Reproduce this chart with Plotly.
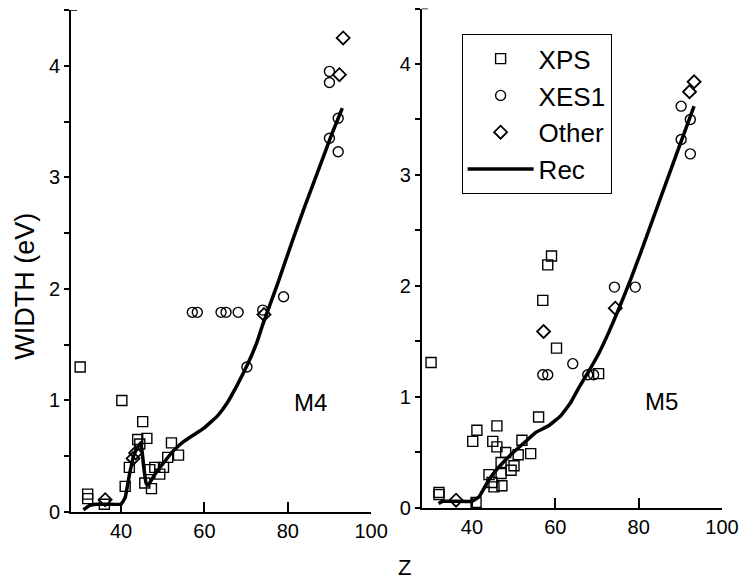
import plotly.graph_objects as go

# ---- M4 panel data ----
m4_xps_z = [30.2, 32.0, 32.0, 36.0, 40.2, 41.0, 42.0, 44.0, 44.5, 45.2, 46.2, 45.7,
            47.3, 46.9, 48.1, 49.3, 50.2, 51.2, 52.1, 53.8]
m4_xps_w = [1.30, 0.16, 0.12, 0.07, 1.00, 0.23, 0.40, 0.65, 0.61, 0.81, 0.66, 0.26,
            0.21, 0.38, 0.40, 0.34, 0.40, 0.49, 0.62, 0.51]
m4_xes_z = [57.1, 58.3, 64.0, 65.2, 68.1, 74.0, 79.0, 70.2, 90.0, 90.0, 92.1, 90.0, 92.1]
m4_xes_w = [1.79, 1.79, 1.79, 1.79, 1.79, 1.81, 1.93, 1.30, 3.95, 3.85, 3.53, 3.35, 3.23]
m4_oth_z = [36.2, 42.9, 43.5, 74.3, 92.4, 93.3]
m4_oth_w = [0.11, 0.48, 0.53, 1.77, 3.92, 4.25]
m4_rec_z = [31, 32.5, 34, 37, 40, 41, 42, 43, 44, 44.8, 45.4, 46, 46.5, 48, 50, 52.6,
            55, 57.4, 59.8, 63.1, 65.5, 67.9, 70.2, 72.6, 74, 77.6, 81.2, 84, 87.1,
            90.7, 93.1]
m4_rec_w = [0.02, 0.06, 0.07, 0.07, 0.07, 0.13, 0.33, 0.50, 0.58, 0.62, 0.42, 0.26,
            0.24, 0.33, 0.43, 0.55, 0.63, 0.69, 0.75, 0.86, 0.98, 1.14, 1.31, 1.52,
            1.68, 2.05, 2.44, 2.73, 3.04, 3.40, 3.62]

# ---- M5 panel data ----
m5_xps_z = [30.2, 32.1, 32.1, 41.0, 40.2, 41.2, 46.0, 45.0, 46.0, 48.1, 44.1, 44.8,
            45.3, 47.2, 47.0, 47.0, 49.4, 50.1, 51.1, 52.0, 54.1, 56.0, 57.0, 58.2,
            59.1, 60.3, 70.4]
m5_xps_w = [1.31, 0.14, 0.12, 0.05, 0.60, 0.70, 0.74, 0.60, 0.55, 0.50, 0.30, 0.23,
            0.19, 0.20, 0.41, 0.31, 0.34, 0.38, 0.48, 0.61, 0.49, 0.82, 1.87, 2.19,
            2.27, 1.44, 1.21]
m5_xes_z = [57.0, 58.2, 64.2, 67.8, 69.2, 74.2, 79.2, 90.2, 92.4, 90.2, 92.4]
m5_xes_w = [1.20, 1.20, 1.30, 1.20, 1.20, 1.99, 1.99, 3.62, 3.50, 3.32, 3.19]
m5_oth_z = [36.2, 57.2, 74.4, 92.2, 93.3]
m5_oth_w = [0.07, 1.59, 1.80, 3.75, 3.84]
m5_rec_z = [32, 33, 36, 40, 41.7, 44, 46.5, 49.6, 52.9, 55.3, 58.4, 61.3, 63.7, 65.6,
            68, 70.4, 72.8, 75.2, 78, 80.7, 83, 86, 89.5, 93.3]
m5_rec_w = [0.04, 0.06, 0.06, 0.06, 0.10, 0.25, 0.37, 0.49, 0.60, 0.68, 0.74, 0.83,
            0.95, 1.08, 1.23, 1.39, 1.58, 1.79, 2.05, 2.32, 2.56, 2.87, 3.23, 3.62]

x_ticks = [40, 60, 80, 100]
y_ticks = [0, 1, 2, 3, 4]

FONT = "Liberation Sans, Arial, sans-serif"
BLACK = "black"

fig = go.Figure()

panels = [
    ("x", "y", m4_xps_z, m4_xps_w, m4_xes_z, m4_xes_w, m4_oth_z, m4_oth_w, m4_rec_z, m4_rec_w, True),
    ("x2", "y2", m5_xps_z, m5_xps_w, m5_xes_z, m5_xes_w, m5_oth_z, m5_oth_w, m5_rec_z, m5_rec_w, False),
]

for xa, ya, xz, xw, ez, ew, oz, ow, rz, rw, show in panels:
    fig.add_trace(go.Scatter(
        x=xz, y=xw, xaxis=xa, yaxis=ya, mode="markers", name="XPS",
        legendgroup="XPS", showlegend=show,
        marker=dict(symbol="square-open", size=10, color=BLACK, line=dict(width=1.4, color=BLACK))))
    fig.add_trace(go.Scatter(
        x=ez, y=ew, xaxis=xa, yaxis=ya, mode="markers", name="XES1",
        legendgroup="XES1", showlegend=show,
        marker=dict(symbol="circle-open", size=10, color=BLACK, line=dict(width=1.4, color=BLACK))))
    fig.add_trace(go.Scatter(
        x=oz, y=ow, xaxis=xa, yaxis=ya, mode="markers", name="Other",
        legendgroup="Other", showlegend=show,
        marker=dict(symbol="diamond-open", size=10, color=BLACK, line=dict(width=1.8, color=BLACK))))
    fig.add_trace(go.Scatter(
        x=rz, y=rw, xaxis=xa, yaxis=ya, mode="lines", name="Rec",
        legendgroup="Rec", showlegend=show,
        line=dict(color=BLACK, width=3.5, shape="spline", smoothing=0.3)))

xaxis_common = dict(
    range=[28, 100], tickvals=x_ticks, ticks="inside", ticklen=10, tickwidth=1.5,
    tickcolor=BLACK, showline=True, linecolor=BLACK, linewidth=2, showgrid=False,
    zeroline=False, tickfont=dict(family=FONT, size=20, color=BLACK),
)
yaxis_common = dict(
    range=[0, 4.5], tickvals=y_ticks, ticks="outside", ticklen=5, tickwidth=1.5,
    tickcolor=BLACK, showline=True, linecolor=BLACK, linewidth=2, showgrid=False,
    zeroline=False, tickfont=dict(family=FONT, size=20, color=BLACK),
    minor=dict(dtick=0.5, ticks="outside", ticklen=5, tickwidth=1.5, tickcolor=BLACK, showgrid=False),
)

fig.update_layout(
    width=747, height=581,
    margin=dict(l=71, r=23, t=8, b=69),
    paper_bgcolor="white", plot_bgcolor="white",
    font=dict(family=FONT, color=BLACK),
    xaxis=dict(domain=[0, 0.461], anchor="y", **xaxis_common),
    xaxis2=dict(domain=[0.539, 1], anchor="y2", **xaxis_common),
    yaxis=dict(domain=[0, 0.996], anchor="x", **yaxis_common),
    yaxis2=dict(domain=[0.008, 0.999], anchor="x2", **yaxis_common),
    legend=dict(
        x=0.600, y=0.948, xanchor="left", yanchor="top",
        bgcolor="white", bordercolor=BLACK, borderwidth=1,
        font=dict(family=FONT, size=26, color=BLACK),
        itemsizing="trace", itemwidth=66, tracegroupgap=0,
    ),
    showlegend=True,
)

# end caps at the top of each y axis
for xd, yr in (("x domain", "y"), ("x2 domain", "y2")):
    fig.add_shape(type="line", xref=xd, yref=yr, xsizemode="pixel", xanchor=0,
                  x0=0, x1=6, y0=4.5, y1=4.5, line=dict(color=BLACK, width=1.5))

fig.add_annotation(text="M4", x=85.5, y=0.98, xref="x", yref="y", showarrow=False,
                   font=dict(family=FONT, size=24, color=BLACK))
fig.add_annotation(text="M5", x=85.5, y=0.96, xref="x2", yref="y2", showarrow=False,
                   font=dict(family=FONT, size=24, color=BLACK))
fig.add_annotation(text="WIDTH (eV)", x=-0.070, y=0.448, xref="paper", yref="paper",
                   textangle=-90, showarrow=False, xanchor="center", yanchor="middle",
                   font=dict(family=FONT, size=27, color=BLACK))
fig.add_annotation(text="Z", x=0.513, y=-0.110, xref="paper", yref="paper",
                   showarrow=False, xanchor="center", yanchor="middle",
                   font=dict(family=FONT, size=22, color=BLACK))

fig.write_html("out.html")
